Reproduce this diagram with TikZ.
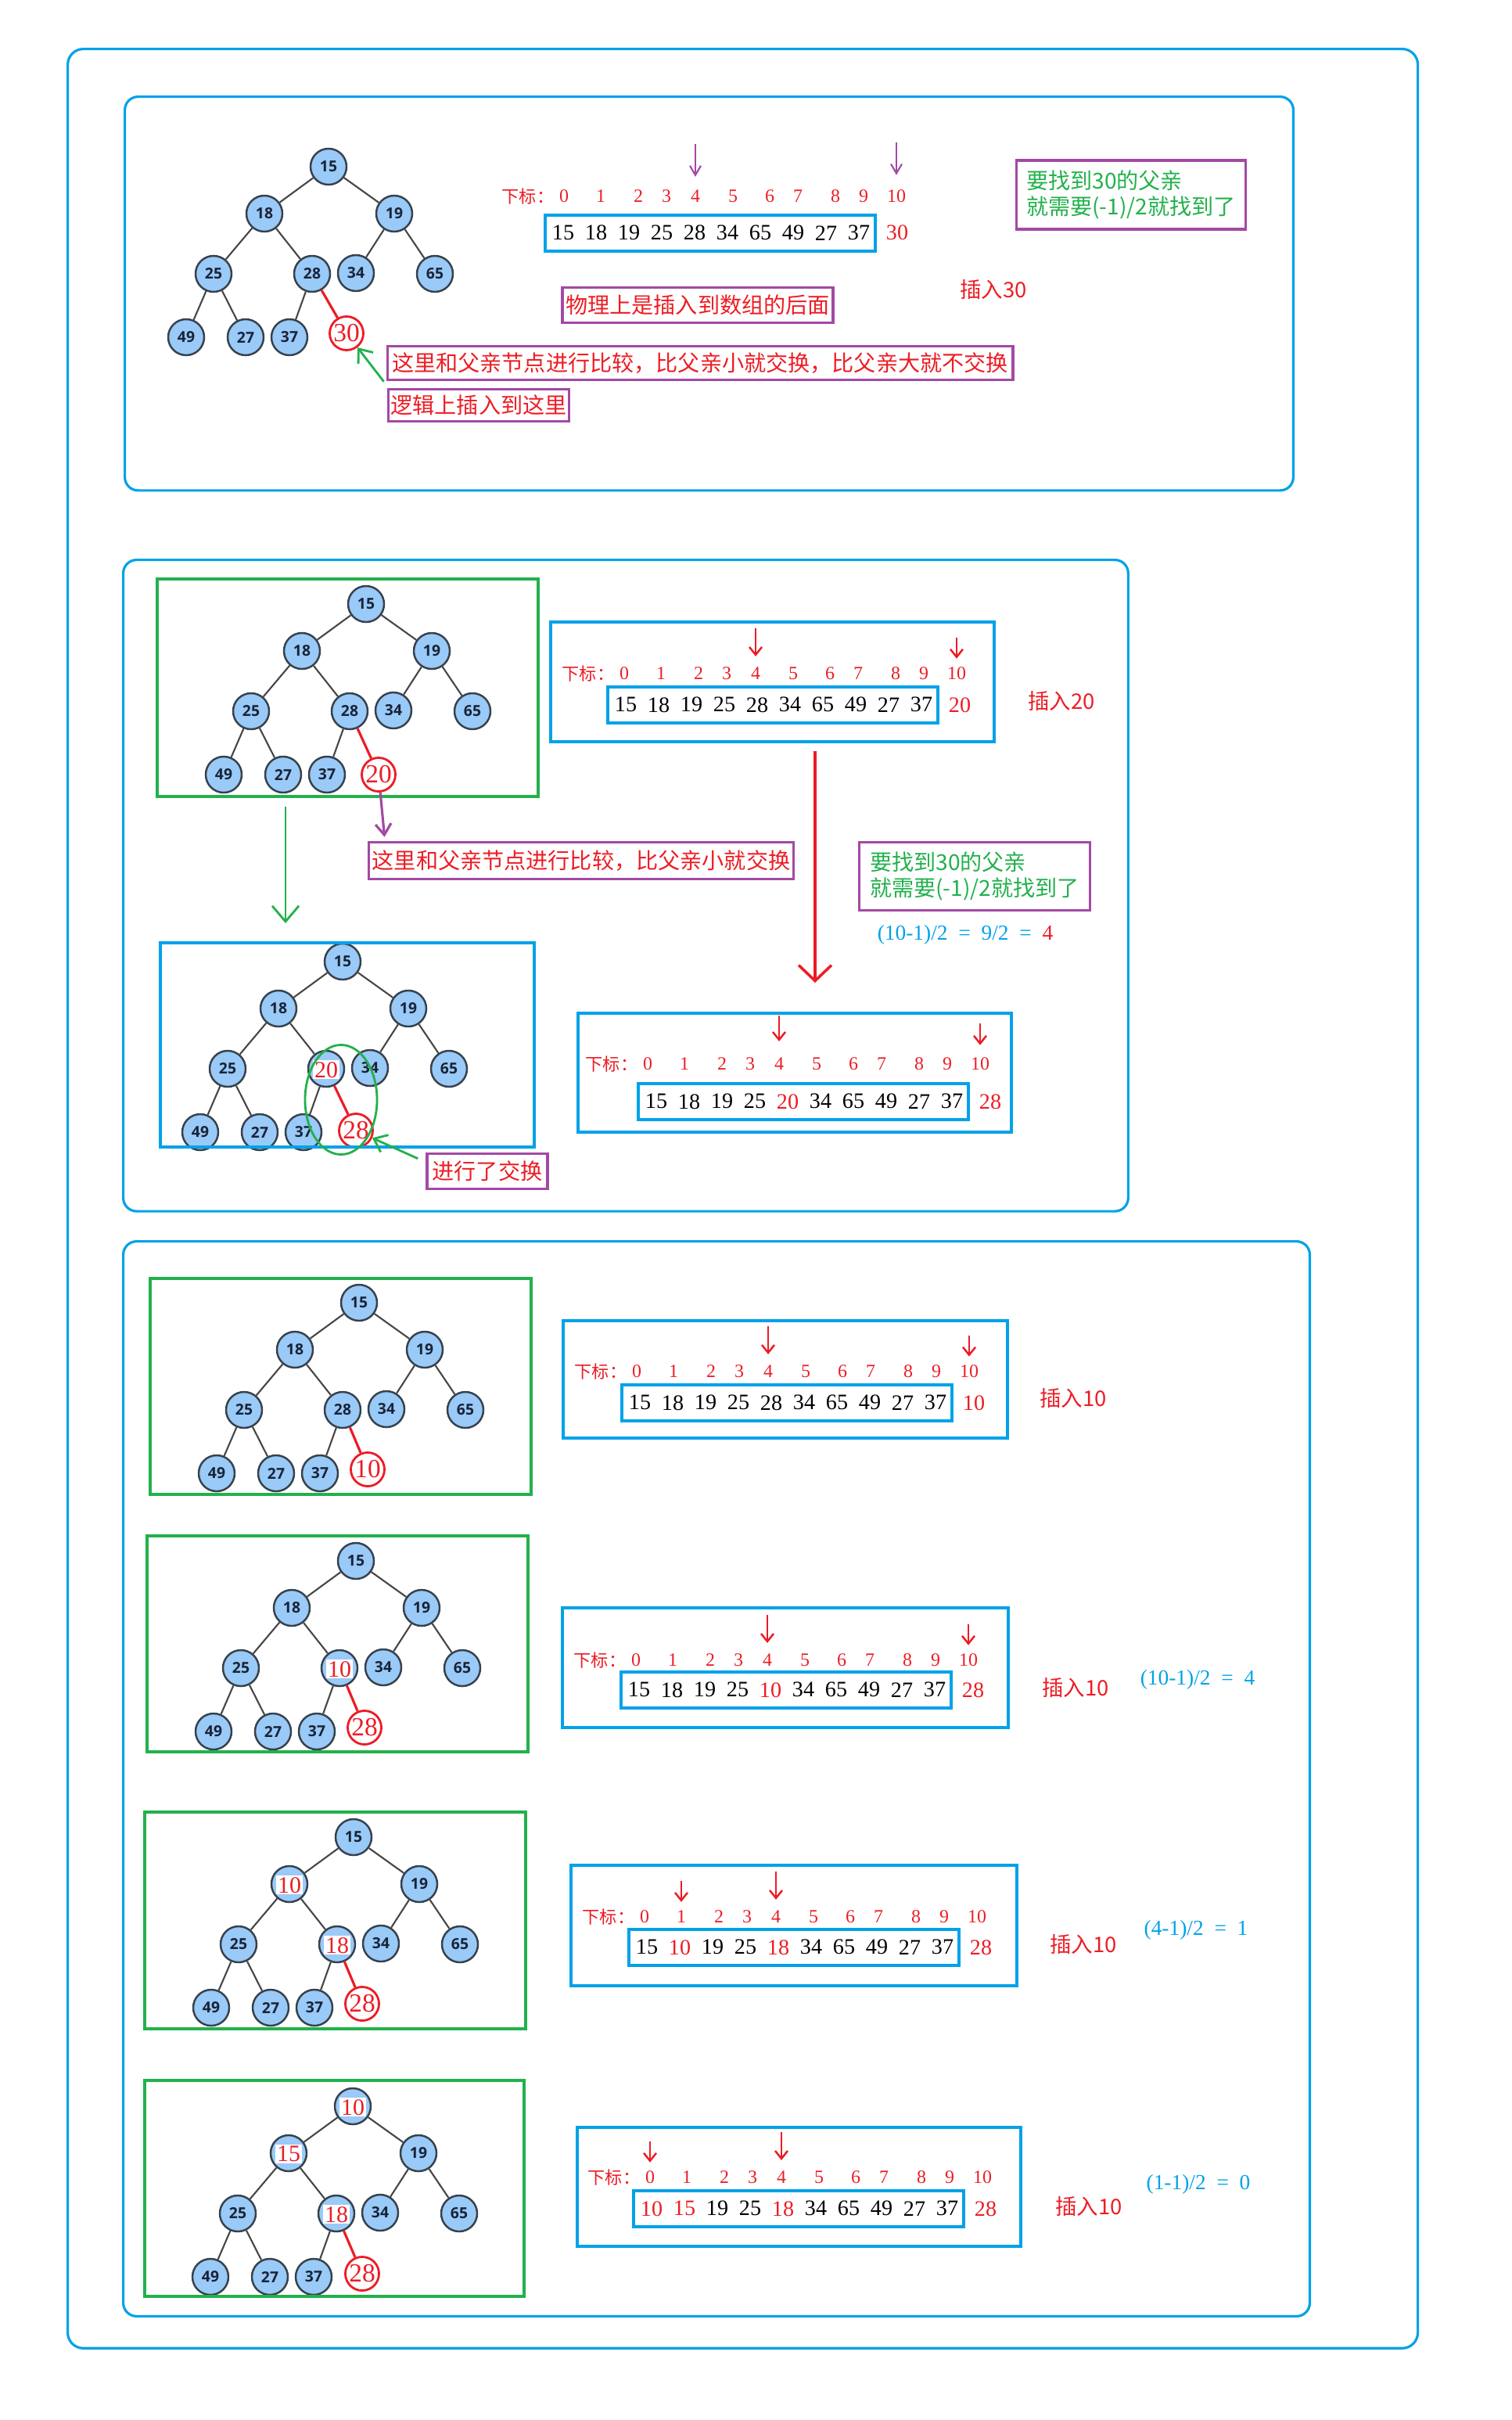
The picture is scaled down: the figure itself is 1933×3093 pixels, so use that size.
\documentclass[tikz,border=0pt]{standalone}
\usepackage{fontspec}
\setmainfont{Liberation Serif}
\setsansfont{Open Sans}
\newfontfamily\cjkfont{Noto Sans CJK SC}
\usetikzlibrary{arrows.meta, calc}

\definecolor{pcyan}{RGB}{0, 162, 232}
\definecolor{pgreen}{RGB}{34, 177, 76}
\definecolor{ppurple}{RGB}{163, 73, 164}
\definecolor{pred}{RGB}{237, 28, 36}
\definecolor{nodefill}{RGB}{153, 202, 248}
\definecolor{nodeedge}{RGB}{55, 65, 75}
\definecolor{nodetext}{RGB}{25, 35, 55}
\definecolor{edgegray}{RGB}{70, 70, 70}

% swapped value written over a tree node
\newcommand{\swp}[1]{\makebox[0pt]{\raisebox{-0.5\height}[0pt][0pt]{\setlength{\fboxsep}{0.6pt}\colorbox{white}{\normalfont\fontsize{8.5}{9}\selectfont\color{pred}#1}}}}
\newcommand{\rd}[1]{\textcolor{pred}{#1}}
\newcommand{\rdl}[1]{\raisebox{-2.5pt}{\textcolor{pred}{#1}}}

% heap: prefix, root, label 0, label 1, label 4, new label, offset of new node
\newcommand{\heaptree}[7]{%
  \foreach \dx/\dy/\lab [count=\k from 0] in {0/0/{#3}, -82/60/{#4}, 84/60/19, -147/137/25, -21/137/{#5}, 35/136/34, 136/137/65, -182/218/49, -106/218/27, -50/218/37}
    \node[hnode] (#1-\k) at ($(#2)+(\dx,\dy)$) {\lab};
  \foreach \c/\p in {1/0, 2/0, 3/1, 4/1, 5/2, 6/2, 7/3, 8/3, 9/4}
    \draw[hedge] (#1-\p) -- (#1-\c);
  \node[newnode] (#1-10) at ($(#1-4)+(#7)$) {#6};
  \draw[redge] (#1-4) -- (#1-10);
}

% index row
\newcommand{\idxrow}[2]{%
  \node[idxlab, anchor=west] (#1-lab) at (#2) {下标：};
  \foreach \i/\dx in {0/80, 1/127, 2/175, 3/211, 4/248, 5/296, 6/343, 7/379, 8/427, 9/463, 10/505}
    \node[idxnum] (#1-i\i) at ($(#1-lab.west)+(\dx,0)$) {\i};
}

% array cells
\newcommand{\heaparray}[4]{%
  \node[abox, anchor=north west] (#1-box) at (#2) {};
  \foreach \v [count=\k from 0] in {#3}
    \node[anum] (#1-v\k) at ($(#1-box.west)+(25+42*\k,0)$) {\v};
  \node[anum, text=pred] (#1-x) at ($(#1-box.west)+(452,0)$) {#4};
}

\begin{document}
\begin{tikzpicture}[x=0.01cm, y=-0.01cm,
  hnode/.style={circle, draw=nodeedge, fill=nodefill, line width=0.7pt, minimum size=0.46cm, inner sep=0pt, text=nodetext, font=\sffamily\bfseries\fontsize{5.5}{6}\selectfont},
  newnode/.style={circle, draw=pred, fill=white, line width=0.8pt, minimum size=0.43cm, inner sep=0pt, text=pred, font=\fontsize{9.5}{10}\selectfont},
  hedge/.style={draw=edgegray, line width=0.6pt},
  redge/.style={draw=pred, line width=0.9pt},
  secbox/.style={draw=pcyan, line width=0.9pt, rounded corners=0.17cm, anchor=north west, inner sep=0pt},
  pbox/.style={draw=pcyan, line width=1.1pt, anchor=north west, inner sep=0pt},
  gbox/.style={draw=pgreen, line width=1.1pt, anchor=north west, inner sep=0pt},
  abox/.style={draw=pcyan, line width=1pt, minimum width=4.22cm, minimum height=0.46cm, inner sep=0pt},
  anum/.style={inner sep=0pt, font=\fontsize{8}{9}\selectfont},
  idxlab/.style={inner sep=0pt, text=pred, font=\cjkfont\fontsize{6.3}{7}\selectfont},
  idxnum/.style={inner sep=1pt, text=pred, font=\fontsize{6.8}{7}\selectfont},
  note/.style={draw=ppurple, line width=1pt, inner sep=0pt, text=pred, font=\cjkfont\fontsize{8}{9.6}\selectfont},
  hint/.style={draw=ppurple, line width=1pt, inner sep=0pt, text=pgreen, align=left, font=\cjkfont\fontsize{8}{9.5}\selectfont},
  ins/.style={text=pred, font=\cjkfont\fontsize{7.8}{9}\selectfont},
  calcnote/.style={text=pcyan, font=\fontsize{7.8}{9}\selectfont},
  ptr/.style={draw=pred, line width=0.7pt, -{Straight Barb[length=0.1cm, width=0.16cm]}},
  pptr/.style={draw=ppurple, line width=0.6pt, -{Straight Barb[length=0.12cm, width=0.14cm]}},
  bigarrow/.style={draw=pred, line width=1pt, -{Straight Barb[length=0.2cm, width=0.42cm]}},
  garrow/.style={draw=pgreen, line width=0.8pt, -{Straight Barb[length=0.15cm, width=0.24cm]}},
  parrow/.style={draw=ppurple, line width=0.9pt, -{Straight Barb[length=0.14cm, width=0.2cm]}}
]
  \useasboundingbox (0,0) rectangle (1933,3093);

  % frames
  \node[secbox, minimum width=17.25cm, minimum height=29.37cm, rounded corners=0.2cm] (outer) at (85,61) {};
  \node[secbox, minimum width=14.93cm, minimum height=5.03cm] (sec1) at (158,122) {};
  \node[secbox, minimum width=12.84cm, minimum height=8.32cm] (sec2) at (156,714) {};
  \node[secbox, minimum width=15.16cm, minimum height=13.73cm] (sec3) at (156,1585) {};

  % insert 30
  \heaptree{t1}{420,213}{15}{18}{28}{30}{44,76}
  \idxrow{p1}{641,251}
  \heaparray{p1}{695,273}{15,18,19,25,28,34,65,49,27,37}{30}
  \draw[pptr] ($(p1-i4.north)+(0,-55)$) -- ($(p1-i4.north)+(0,-13)$);
  \draw[pptr] ($(p1-i10.north)+(0,-57)$) -- ($(p1-i10.north)+(0,-15)$);
  \node[hint, minimum width=2.93cm, minimum height=0.88cm] (hint1) at (1446,249) {要找到30的父亲\\就需要(-1)/2就找到了};
  \node[note, minimum width=3.46cm, minimum height=0.45cm] (phys) at (892,390) {物理上是插入到数组的后面};
  \node[ins] (ins1) at (1270,370) {插入30};
  \node[note, minimum width=7.99cm, minimum height=0.43cm] (cmp1) at (895,464) {这里和父亲节点进行比较，比父亲小就交换，比父亲大就不交换};
  \node[note, minimum width=2.31cm, minimum height=0.41cm] (logic) at (612,518) {逻辑上插入到这里};
  \draw[garrow] ($(logic.north west)+(-4,-8)$) -- (t1-10);

  % insert 20
  \heaptree{t2}{468,772}{15}{18}{28}{20}{37,81}
  \node[gbox, minimum width=4.87cm, minimum height=2.78cm] (t2-frame) at (199,738) {};
  \node[pbox, minimum width=5.67cm, minimum height=1.53cm] (p2-frame) at (702,793) {};
  \idxrow{p2}{718,861}
  \heaparray{p2}{775,876}{15,18,19,25,28,34,65,49,27,37}{20}
  \draw[ptr] ($(p2-i4.north)+(0,-46)$) -- ($(p2-i4.north)+(0,-10)$);
  \draw[ptr] ($(p2-i10.north)+(0,-34)$) -- ($(p2-i10.north)+(0,-7)$);
  \node[ins] (ins2) at (1357,896) {插入20};
  \node[note, minimum width=5.43cm, minimum height=0.47cm] (cmp2) at (743,1100) {这里和父亲节点进行比较，比父亲小就交换};
  \draw[parrow] (t2-10) -- ($(cmp2.north west)+(22,-5)$);
  \coordinate (t3-top) at (365,1180);
  \draw[garrow, -{Straight Barb[length=0.2cm, width=0.34cm]}] ($(t2-frame.south -| t3-top)+(0,11)$) -- (t3-top);
  \node[hint, minimum width=2.95cm, minimum height=0.87cm] (hint2) at (1246,1120) {要找到30的父亲\\就需要(-1)/2就找到了};
  \node[calcnote] (calc2) at (1234,1195) {(10-1)/2\ \ =\ \ 9/2\ \ =\ \ \textcolor{pred}{4}};
  \coordinate (p3-top) at (1042,1256);
  \draw[bigarrow] ($(p2-frame.south -| p3-top)+(0,10)$) -- (p3-top);

  \heaptree{t3}{438,1229}{15}{18}{\swp{20}}{28}{38,79}
  \node[pbox, minimum width=4.78cm, minimum height=2.61cm] (t3-frame) at (203,1203) {};
  \draw[draw=pgreen, line width=0.8pt] ($(t3-4)!0.5!(t3-10)$) ellipse [x radius=0.46cm, y radius=0.7cm];
  \node[note, minimum width=1.54cm, minimum height=0.45cm] (swap) at (623,1497) {进行了交换};
  \draw[garrow] ($(swap.north west)+(-10,8)$) -- (t3-10);
  \node[pbox, minimum width=5.54cm, minimum height=1.52cm] (p3-frame) at (737,1293) {};
  \idxrow{p3}{748,1360}
  \heaparray{p3}{814,1383}{15,18,19,25,\rdl{20},34,65,49,27,37}{28}
  \draw[ptr] ($(p3-i4.north)+(0,-50)$) -- ($(p3-i4.north)+(0,-17)$);
  \draw[ptr] ($(p3-i10.north)+(0,-40)$) -- ($(p3-i10.north)+(0,-12)$);

  % insert 10
  \heaptree{t4}{459,1665}{15}{18}{28}{10}{32,76}
  \node[gbox, minimum width=4.87cm, minimum height=2.76cm] (t4-frame) at (190,1632) {};
  \node[pbox, minimum width=5.68cm, minimum height=1.50cm] (p4-frame) at (718,1686) {};
  \idxrow{p4}{734,1753}
  \heaparray{p4}{793,1768}{15,18,19,25,28,34,65,49,27,37}{10}
  \draw[ptr] ($(p4-i4.north)+(0,-46)$) -- ($(p4-i4.north)+(0,-10)$);
  \draw[ptr] ($(p4-i10.north)+(0,-34)$) -- ($(p4-i10.north)+(0,-7)$);
  \node[ins] (ins4) at (1372,1787) {插入10};

  \heaptree{t5}{455,1995}{15}{18}{\swp{10}}{28}{32,76}
  \node[gbox, minimum width=4.87cm, minimum height=2.76cm] (t5-frame) at (186,1961) {};
  \node[pbox, minimum width=5.70cm, minimum height=1.53cm] (p5-frame) at (717,2053) {};
  \idxrow{p5}{733,2122}
  \heaparray{p5}{792,2135}{15,18,19,25,\rd{10},34,65,49,27,37}{28}
  \draw[ptr] ($(p5-i4.north)+(0,-46)$) -- ($(p5-i4.north)+(0,-10)$);
  \draw[ptr] ($(p5-i10.north)+(0,-34)$) -- ($(p5-i10.north)+(0,-7)$);
  \node[ins] (ins5) at (1375,2157) {插入10};
  \node[calcnote] (calc5) at (1531,2147) {(10-1)/2\ \ =\ \ 4};

  \heaptree{t6}{452,2348}{15}{\swp{10}}{\swp{18}}{28}{32,76}
  \node[gbox, minimum width=4.87cm, minimum height=2.77cm] (t6-frame) at (183,2314) {};
  \node[pbox, minimum width=5.70cm, minimum height=1.54cm] (p6-frame) at (728,2382) {};
  \idxrow{p6}{744,2450}
  \heaparray{p6}{802,2464}{15,\rd{10},19,25,\rdl{18},34,65,49,27,37}{28}
  \draw[ptr] ($(p6-i1.north)+(0,-34)$) -- ($(p6-i1.north)+(0,-7)$);
  \draw[ptr] ($(p6-i4.north)+(0,-46)$) -- ($(p6-i4.north)+(0,-10)$);
  \node[ins] (ins6) at (1385,2485) {插入10};
  \node[calcnote] (calc6) at (1529,2467) {(4-1)/2\ \ =\ \ 1};

  \heaptree{t7}{451,2692}{\swp{10}}{\swp{15}}{\swp{18}}{28}{33,77}
  \node[gbox, minimum width=4.85cm, minimum height=2.76cm] (t7-frame) at (183,2657) {};
  \node[pbox, minimum width=5.67cm, minimum height=1.52cm] (p7-frame) at (736,2717) {};
  \idxrow{p7}{751,2783}
  \heaparray{p7}{808,2798}{\rd{10},\rd{15},19,25,\rdl{18},34,65,49,27,37}{28}
  \draw[ptr] ($(p7-i0.north)+(0,-34)$) -- ($(p7-i0.north)+(0,-7)$);
  \draw[ptr] ($(p7-i4.north)+(0,-46)$) -- ($(p7-i4.north)+(0,-10)$);
  \node[ins] (ins7) at (1392,2820) {插入10};
  \node[calcnote] (calc7) at (1532,2792) {(1-1)/2\ \ =\ \ 0};
\end{tikzpicture}
\end{document}
